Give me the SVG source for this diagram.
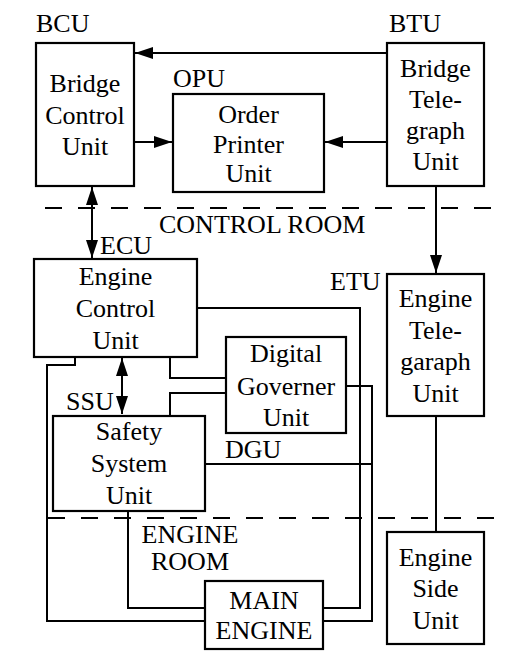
<svg xmlns="http://www.w3.org/2000/svg" width="528" height="666" viewBox="0 0 528 666" font-family="'Liberation Serif', 'Times New Roman', 'DejaVu Serif', serif" font-size="26">
<style>
.box{fill:#fff;stroke:#000;stroke-width:2.2}
.ln{fill:none;stroke:#000;stroke-width:2}
.dash{fill:none;stroke:#000;stroke-width:2;stroke-dasharray:17 16}
text{font-family:'Liberation Serif','Times New Roman','DejaVu Serif',serif;font-size:26px;fill:#000}
.c{text-anchor:middle}
</style>
<defs>
<marker id="ah" markerUnits="userSpaceOnUse" markerWidth="18" markerHeight="12" refX="18" refY="6" orient="auto-start-reverse" viewBox="0 0 18 12">
<path d="M0,0 L18,6 L0,12 z" fill="#000"/>
</marker>
</defs>
<rect width="528" height="666" fill="#fff"/>
<g id="rooms">
<line class="dash" x1="45" y1="208" x2="496" y2="208"/>
<line class="dash" x1="48" y1="518" x2="496" y2="518"/>
<text x="159" y="233">CONTROL ROOM</text>
<text class="c" x="190" y="543">ENGINE</text>
<text class="c" x="190" y="570">ROOM</text>
</g>
<g id="connectors">
<line class="ln" x1="387" y1="53" x2="135" y2="53" marker-end="url(#ah)"/>
<line class="ln" x1="387" y1="142" x2="325" y2="142" marker-end="url(#ah)"/>
<line class="ln" x1="134" y1="142" x2="172" y2="142" marker-end="url(#ah)"/>
<line class="ln" x1="92" y1="187" x2="92" y2="258" marker-start="url(#ah)" marker-end="url(#ah)"/>
<line class="ln" x1="436" y1="186" x2="436" y2="273" marker-end="url(#ah)"/>
<line class="ln" x1="436" y1="416" x2="436" y2="532"/>
<line class="ln" x1="122" y1="358" x2="122" y2="414" marker-start="url(#ah)" marker-end="url(#ah)"/>
<polyline class="ln" points="197,308 360,308 360,608 323,608"/>
<polyline class="ln" points="347,386 372,386 372,621 323,621"/>
<line class="ln" x1="205" y1="464" x2="372" y2="464"/>
<polyline class="ln" points="75,357 75,365 47,365 47,621 205,621"/>
<polyline class="ln" points="128,511 128,608 205,608"/>
<polyline class="ln" points="170,357 170,378 226,378"/>
<polyline class="ln" points="170,415 170,393 226,393"/>
</g>
<g id="BCU">
<rect class="box" x="36" y="43" width="98" height="143"/>
<text x="36" y="32">BCU</text>
<text class="c" x="85" y="92">Bridge</text>
<text class="c" x="85" y="124">Control</text>
<text class="c" x="85" y="155">Unit</text>
</g>
<g id="OPU">
<rect class="box" x="173" y="94" width="151" height="98"/>
<text x="173" y="87">OPU</text>
<text class="c" x="248.5" y="123">Order</text>
<text class="c" x="248.5" y="153">Printer</text>
<text class="c" x="248.5" y="182">Unit</text>
</g>
<g id="BTU">
<rect class="box" x="387" y="43" width="97" height="143"/>
<text x="389" y="32">BTU</text>
<text class="c" x="435.5" y="77">Bridge</text>
<text class="c" x="435.5" y="108">Tele-</text>
<text class="c" x="435.5" y="139">graph</text>
<text class="c" x="435.5" y="170">Unit</text>
</g>
<g id="ECU">
<rect class="box" x="34" y="259" width="163" height="98"/>
<text x="100" y="254">ECU</text>
<text class="c" x="115.5" y="285">Engine</text>
<text class="c" x="115.5" y="317">Control</text>
<text class="c" x="115.5" y="349">Unit</text>
</g>
<g id="DGU">
<rect class="box" x="226" y="337" width="120" height="96"/>
<text x="225" y="458">DGU</text>
<text class="c" x="286" y="362">Digital</text>
<text class="c" x="286" y="395">Governer</text>
<text class="c" x="286" y="426">Unit</text>
</g>
<g id="SSU">
<rect class="box" x="53" y="416" width="152" height="95"/>
<text x="66" y="410">SSU</text>
<text class="c" x="129" y="440">Safety</text>
<text class="c" x="129" y="472">System</text>
<text class="c" x="129" y="504">Unit</text>
</g>
<g id="ETU">
<rect class="box" x="387" y="274" width="97" height="142"/>
<text x="330" y="290">ETU</text>
<text class="c" x="435.5" y="307">Engine</text>
<text class="c" x="435.5" y="339">Tele-</text>
<text class="c" x="435.5" y="370">garaph</text>
<text class="c" x="435.5" y="402">Unit</text>
</g>
<g id="ESU">
<rect class="box" x="387" y="532" width="97" height="112"/>
<text class="c" x="435.5" y="566">Engine</text>
<text class="c" x="435.5" y="597">Side</text>
<text class="c" x="435.5" y="629">Unit</text>
</g>
<g id="ME">
<rect class="box" x="205" y="581" width="118" height="68"/>
<text class="c" x="264" y="609">MAIN</text>
<text class="c" x="264" y="639">ENGINE</text>
</g>
</svg>
